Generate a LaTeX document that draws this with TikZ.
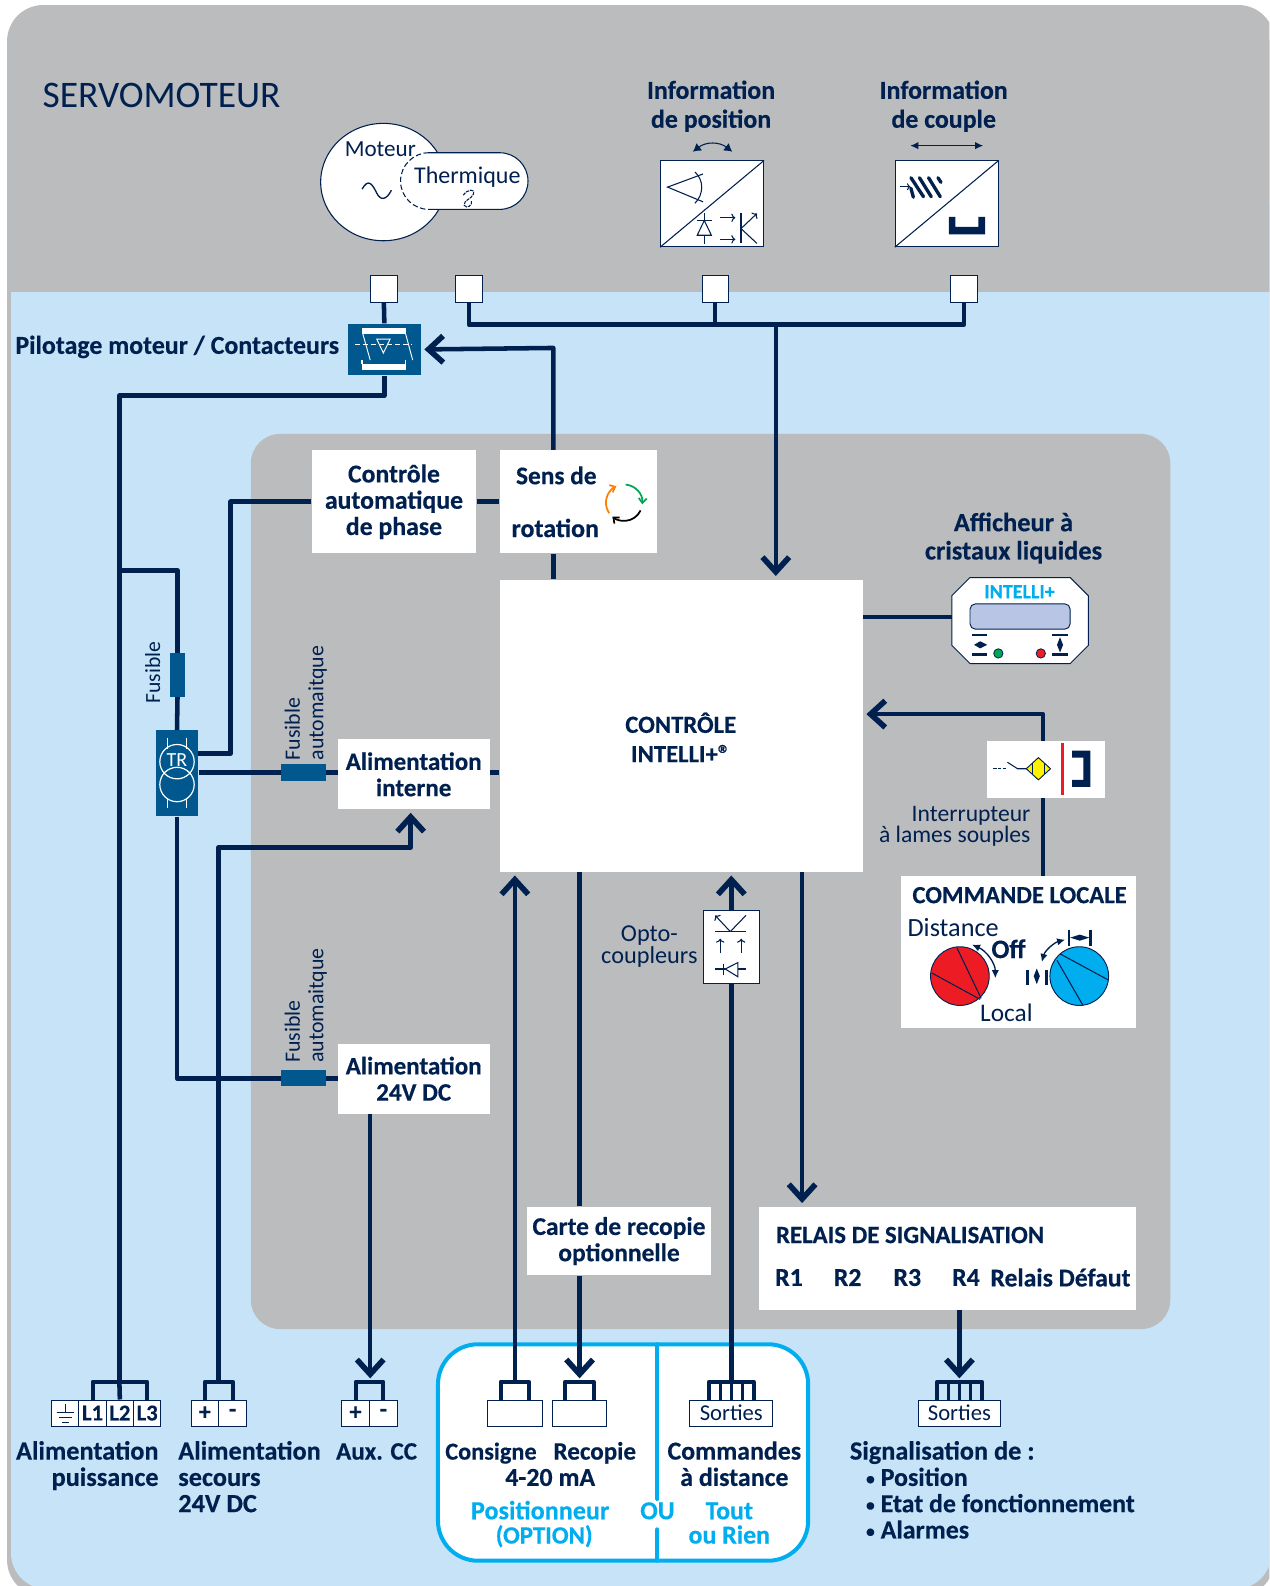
\documentclass[tikz,border=0pt]{standalone}
\usepackage{fontspec}
\setmainfont[BoldFeatures={FakeBold=0.4}]{Carlito}
\usetikzlibrary{calc,arrows.meta,shapes.geometric}
\definecolor{navy}{HTML}{00204F}
\definecolor{skyb}{HTML}{C6E3F8}
\definecolor{grayb}{HTML}{BBBCBE}
\definecolor{dblue}{HTML}{00588F}
\definecolor{cyanb}{HTML}{00AEEF}
\definecolor{redk}{HTML}{ED1C24}
\definecolor{yel}{HTML}{FFF200}
\definecolor{grn}{HTML}{00A651}
\definecolor{scr}{HTML}{B8C5E5}
\newcommand{\bx}[7]{% name x1 y1 x2 y2 style text
  \pgfmathsetmacro{\bw}{(#4-#2)*0.7584}\pgfmathsetmacro{\bh}{(#5-#3)*0.7584}
  \node[#6,minimum width=\bw pt,minimum height=\bh pt] (#1) at ({(#2+#4)/2},{(#3+#5)/2}) {#7};}
\newcommand{\fb}[1]{\fontsize{#1}{19.7}\selectfont\bfseries}
\newcommand{\fr}[1]{\fontsize{#1}{13.6}\selectfont}
\newcommand{\smallbul}{{\fontsize{13}{13}\selectfont\raisebox{1pt}{•}}\hspace{4.5pt}}
\tikzset{
 x=0.7584pt,y=-0.7584pt,
 wire/.style={draw=navy,line width=3.4pt,line join=round},
 wiretip/.style={wire,-{Straight Barb[length=11pt,width=20pt,line width=4.2pt,sep=1.5pt]},shorten >=1pt},
 comb/.style={draw=navy,line width=3pt,line join=round},
 icon/.style={draw=navy,line width=0.8pt},
 wbox/.style={rectangle,fill=white,inner sep=0pt,align=center,text=navy},
 term/.style={rectangle,fill=white,draw=navy,line width=0.6pt,inner sep=0pt,align=center,text=navy},
 dbox/.style={rectangle,fill=dblue,inner sep=0pt},
 tb/.style={inner sep=0pt,text=navy,align=center,font=\fb{19.4}},
 tr/.style={inner sep=0pt,text=navy,align=center,font=\fr{17.5}},
 tc/.style={tb,text=cyanb},
 bl/.style={tb,anchor=base west},
 wl/.style={draw=white,line width=0.7pt},
}
\begin{document}
\begin{tikzpicture}
\clip (0,0) rectangle (1255,1568);
\fill[white] (0,0) rectangle (1255,1568);
\fill[grayb,rounded corners=27pt] (7,5) rectangle (1260,1578);
\begin{scope}
\fill[skyb,rounded corners=27pt] (10.9,180) rectangle (1257,1571);
\fill[grayb] (8,40) rectangle (1262,289);
\end{scope}
\fill[grayb,rounded corners=22pt] (248,429) rectangle (1157,1314);

\node[inner sep=0pt,text=navy,anchor=west,font=\fontsize{28.1}{30}\selectfont] (title) at (42,94) {SERVOMOTEUR};

% ---------- Motor
\node[ellipse,draw=navy,line width=0.8pt,fill=white,minimum width=94pt,minimum height=88pt,inner sep=0pt] (motor) at (379,180) {};
\fill[white,rounded corners=21pt] (398,151) rectangle (522,207);
\draw[icon] (424,151) -- (494,151) arc[start angle=-90,end angle=90,radius=28] -- (424,207);
\draw[icon,dash pattern=on 4pt off 2pt] (424,151) arc[start angle=-90,end angle=-270,radius=28];
\node[tr,font=\fr{17.3}] (moteurt) at (376,147) {Moteur};
\node[tr,font=\fr{18}] (thermt) at (462,175) {Thermique};
\draw[navy,line width=1pt] (358,187) .. controls (364,176) and (368,182) .. (372,190) .. controls (376,199) and (382,198) .. (387,188);
\draw[icon,dash pattern=on 2.5pt off 0.7pt] (458,193) .. controls (462,187) and (470,186) .. (468,192) .. controls (466,197) and (458,198) .. (459,203) .. controls (461,207) and (468,203) .. (466,198);

% ---------- Position info
\node[tb] (infopos) at (703,105) {Information\\[2pt]de position};
\node[tb] (infocou) at (933,105) {Information\\[2pt]de couple};
\draw[icon,{Latex[length=6pt,width=7pt]}-{Latex[length=6pt,width=7pt]}] (685,150) .. controls (698,140) and (711,140) .. (724,150);
\draw[icon,{Latex[length=6pt,width=5.5pt]}-{Latex[length=6pt,width=5.5pt]}] (900,144) -- (972,144);
\bx{posbox}{653}{159}{755}{244}{term}{}
\bx{coubox}{885}{159}{987}{244}{term}{}
\draw[icon] (posbox.south west) -- (posbox.north east);
\draw[icon] (coubox.south west) -- (coubox.north east);
\draw[icon] (695,172) -- (660,185) -- (695,199.5);
\draw[icon] (687,170) .. controls (696,178) and (696,192) .. (687,201);
\draw[icon] (696.3,211) -- (696.3,217.6) (696.3,232.6) -- (696.3,241);
\draw[icon] (689,218) -- (703.5,218);
\draw[icon] (696.3,218) -- (689.3,232.6) -- (703.3,232.6) -- cycle;
\draw[icon,-{To[length=3pt]}] (712,215.3) -- (727,215.3);
\draw[icon,-{To[length=3pt]}] (712,236.6) -- (727,236.6);
\draw[icon] (732.6,211) -- (732.6,240.7);
\draw[icon,-{To[length=3pt]}] (732.6,226) -- (748.4,211);
\draw[icon] (732.6,226) -- (748.4,240.7);
% couple icon
\draw[icon,-{To[length=2.5pt]}] (890,184.6) -- (900,184.6);
\draw[navy,line width=2.5pt,line cap=round] (900.6,186.2) -- (903,195) (900.6,175.7) -- (913,194.5) (909,175.7) -- (920.7,194.5) (918,175.7) -- (929.6,194.5) (927.3,175.7) -- (930.3,180.3);
\fill[navy] (938,214.3) -- (944.6,214.3) -- (944.6,224.2) -- (967.3,224.2) -- (967.3,214.3) -- (974,214.3) -- (974,231.7) -- (938,231.7) -- cycle;

% ---------- top terminals
\bx{t1}{366}{272}{393}{299}{term}{}
\bx{t2}{450}{272}{477}{299}{term}{}
\bx{t3}{694}{272}{720}{299}{term}{}
\bx{t4}{940}{272}{966}{299}{term}{}
\coordinate (bus) at (767,321);
\draw[wire] (t2.south) |- (bus) -| (t4.south);
\draw[wire] (t3.south) -- (t3.south |- bus);

% ---------- Contactor
\bx{cont}{344}{320}{416}{371}{dbox}{}
\draw[wire] (t1.south) -- (cont.north);
\node[tb,anchor=west] (pilot) at (15,343) {Pilotage moteur / Contacteurs};
\fill[white] (357.6,324.6) rectangle (401,330);
\fill[white] (357.6,360) rectangle (401,366);
\draw[wl,line width=1pt] (358,356) -- (358,360) (401,356) -- (401,360);
\draw[wl,dash pattern=on 4pt off 2pt] (351,341) -- (407,341);
\draw[wl] (372.5,335.3) -- (385.7,335.3) -- (379,349) -- cycle;
\draw[wl] (358.7,330) -- (366,356) (401,330) -- (408,356);

% ---------- Main controller and upper boxes
\bx{ctrl}{494}{573}{853}{862}{wbox}{}
\node[tb,font=\fontsize{18.5}{22}\selectfont\bfseries] (ctrlt) at (673,729) {CONTRÔLE\\INTELLI+®};
\bx{phase}{308}{445}{471}{547}{wbox,font=\fb{19.3}}{Contrôle\\automatique\\de phase}
\bx{sens}{494}{445}{650}{547}{wbox}{}
\node[tb,font=\fb{19}] (senst) at (550,470) {Sens de};
\node[tb,font=\fb{19.5}] (senst2) at (549,522) {rotation};
\coordinate (rotc) at (617,497);
\draw[draw=orange,line width=1.3pt,-{Straight Barb[length=3.5pt,width=6pt]}] ([shift={(-215:18)}]rotc) arc[start angle=-215,end angle=-115,radius=18];
\draw[draw=grn,line width=1.3pt,-{Straight Barb[length=3.5pt,width=6pt]}] ([shift={(-85:18)}]rotc) arc[start angle=-85,end angle=5,radius=18];
\draw[draw=black,line width=1.3pt,-{Straight Barb[length=3.5pt,width=6pt]}] ([shift={(25:18)}]rotc) arc[start angle=25,end angle=130,radius=18];

\coordinate (rotup) at (547,344);
\draw[wiretip] (sens.north -| rotup) -- (rotup) -- (cont.east);
\draw[wire] (phase.east) -- (sens.west);
\draw[wire] (sens.south -| rotup) -- (ctrl.north -| rotup);
\draw[wiretip] (bus) -- (bus |- ctrl.north);

% ---------- Display
\node[tb,font=\fb{19.8}] (afft) at (1002,532) {Afficheur à\\[1.5pt]cristaux liquides};
\path[fill=white,draw=navy,line width=0.7pt] (959,571) -- (1058,571) -- (1076,589) -- (1076,638) -- (1058,656) -- (959,656) -- (941,638) -- (941,589) -- cycle;
\coordinate (dispw) at (941,610);
\node[inner sep=0pt,text=cyanb,font=\fontsize{15}{16}\selectfont\bfseries] (dispt) at (1008,585) {INTELLI+};
\draw[fill=scr,draw=navy,line width=0.7pt,rounded corners=4pt] (959,597) rectangle (1058,622);
\draw[navy,line width=1.7pt] (961,628) -- (976,628) (961,647) -- (976,647);
\fill[navy] (963,637.5) -- (969,634) -- (976,637.5) -- (969,641) -- cycle;
\draw[navy,line width=1.7pt] (1040,628) -- (1056,628) (1040,647) -- (1056,647);
\fill[navy] (1048,630) -- (1051,637.5) -- (1048,645) -- (1045,637.5) -- cycle;
\draw[draw=navy,line width=0.6pt,fill=grn] (987,646) circle[radius=4.6];
\draw[draw=navy,line width=0.6pt,fill=redk] (1029,646) circle[radius=4.6];
\draw[wire] (ctrl.east |- dispw) -- (dispw);

% ---------- Switch
\bx{switch}{976}{733}{1092}{789}{wbox}{}
\bx{cmd}{891}{866}{1123}{1016}{wbox}{}
\coordinate (swup) at (1031,706);
\draw[wiretip] (switch.north -| swup) -- (swup) -- (ctrl.east |- swup);
\draw[wire] (switch.south -| swup) -- (cmd.north -| swup);
\draw[draw=navy,line width=0.7pt,dash pattern=on 2.5pt off 1pt] (982,760) -- (995,760);
\draw[icon] (996,753.6) -- (1006,760) -- (1015,760);
\draw[fill=yel,draw=navy,line width=0.7pt] (1014.6,760) -- (1026.6,749) -- (1038.6,760) -- (1026.6,771) -- cycle;
\draw[icon] (1020.6,754.5) -- (1020.6,765.5) (1032.6,754.5) -- (1032.6,765.5);
\draw[draw=redk,line width=2.2pt] (1050,735) -- (1050,786);
\fill[navy] (1060,742) -- (1078,742) -- (1078,778) -- (1060,778) -- (1060,771) -- (1071,771) -- (1071,749) -- (1060,749) -- cycle;
\node[tr,font=\fr{17.7},align=right,anchor=east] (inter) at (1019,817) {Interrupteur\\à lames souples};

% ---------- Commande locale
\node[tb,font=\fb{18.5}] (cmdt) at (1008,885) {COMMANDE LOCALE};
\node[tr,anchor=west,font=\fr{19.7}] (distt) at (897,917) {Distance};
\node[tb,font=\fb{20}] (offt) at (997,938) {Off};
\node[tr,font=\fr{19}] (localt) at (995,1001) {Local};
\draw[fill=redk,draw=navy,line width=0.7pt] (949,965) circle[radius=29];
\draw[icon] (946,937) -- (970,987) (921.4,962) -- (969,988);
\draw[fill=cyanb,draw=navy,line width=0.7pt] (1067,965) circle[radius=29];
\draw[icon] (1048,943) -- (1096,969) (1045,949.4) -- (1070.7,994);
\draw[icon,line width=1pt,{Latex[length=6pt,width=5.5pt]}-{Latex[length=6pt,width=5.5pt]}] (961,934) .. controls (975,940) and (984,952) .. (984,967);
\draw[icon,line width=1pt,{Latex[length=6pt,width=5.5pt]}-{Latex[length=6pt,width=5.5pt]}] (1030,951) .. controls (1033,940) and (1042,932) .. (1053,929);
\draw[navy,line width=2pt] (1057,919.6) -- (1057,935) (1078,919.6) -- (1078,935);
\fill[navy] (1058,927) -- (1067.5,924) -- (1077,927) -- (1067.5,930) -- cycle;
\draw[navy,line width=2pt] (1016,959) -- (1016,973.6) (1034.4,959) -- (1034.4,973.6);
\fill[navy] (1025,957.5) -- (1028,965) -- (1025,973) -- (1022,965) -- cycle;

% ---------- Power tree
\bx{fuse1}{168}{646}{183}{689}{dbox}{}
\bx{tr}{154}{722}{196}{807}{dbox}{}
\bx{fuse2}{278}{755}{322}{772}{dbox}{}
\bx{fuse3}{278}{1058}{322}{1074}{dbox}{}
\bx{alimi}{334}{731}{484}{800}{wbox,font=\fb{18.8}}{Alimentation\\interne}
\bx{alim24}{334}{1032}{484}{1101}{wbox,font=\fb{18.8}}{Alimentation\\24V DC}
\node[tr,rotate=90,anchor=center,font=\fr{16.2}] (fust) at (151,665) {Fusible};
\node[tr,rotate=90,anchor=west,font=\fr{16.4}] (fa1) at (289,752) {Fusible};
\node[tr,rotate=90,anchor=west,font=\fr{16.4}] (fa2) at (314,752) {automaitque};
\node[tr,rotate=90,anchor=west,font=\fr{16.4}] (fb1) at (289,1051) {Fusible};
\node[tr,rotate=90,anchor=west,font=\fr{16.4}] (fb2) at (314,1051) {automaitque};
% TR icon
\draw[wl,line width=0.9pt] (175,753) circle[radius=17] (175,775.6) circle[radius=17];
\draw[wl] (165.8,730) -- (165.8,740) (184,730) -- (184,740) (165.8,789) -- (165.8,799) (184,789) -- (184,799);
\node[inner sep=0pt,text=white,font=\fontsize{15}{16}\selectfont] (trt) at (175,751) {TR};

\coordinate (lv) at (118,391);
\coordinate (lj) at (118,564);
\coordinate (phs) at (196,745);
\coordinate (phc) at (228,496);
\coordinate (l24) at (175,1066);
\draw[wire] (lj) -| (fuse1.north);
\draw[wire] (fuse1.south) -- (tr.north);
\draw[wire] (phase.west) -- (phc) |- (phs);
\draw[wire] (tr.east |- fuse2) -- (fuse2.west);
\draw[wire] (fuse2.east) -- (alimi.west |- fuse2);
\draw[wire] (alimi.east |- fuse2) -- (ctrl.west |- fuse2);
\draw[wire] (tr.south) -- (l24) -- (fuse3.west);
\draw[wire] (fuse3.east) -- (alimi.west |- fuse3);

% ---------- bottom terminals
\bx{ctn}{433}{1329}{799}{1543}{rectangle,rounded corners=30pt,fill=white,draw=cyanb,line width=3pt}{}
\draw[draw=cyanb,line width=3pt,line cap=round] (650,1329) -- (650,1482) (650,1512) -- (650,1543);
\bx{ge}{51}{1384}{78}{1410}{term}{}
\bx{l1}{78}{1384}{105}{1410}{term,font=\fontsize{17}{17}\selectfont\bfseries}{L1}
\bx{l2}{105}{1384}{132}{1410}{term,font=\fontsize{17}{17}\selectfont\bfseries}{L2}
\bx{l3}{132}{1384}{159}{1410}{term,font=\fontsize{17}{17}\selectfont\bfseries}{L3}
\draw[icon,line width=0.6pt] (64.5,1388) -- (64.5,1396) (56,1396) -- (73,1396) (58,1401) -- (71,1401) (61,1406) -- (68,1406);
\bx{bp}{189}{1384}{216}{1410}{term,font=\fontsize{18}{18}\selectfont\bfseries}{+}
\bx{bm}{216}{1384}{244}{1410}{term,font=\fontsize{18}{18}\selectfont\bfseries}{-}
\bx{ap}{338}{1384}{365}{1410}{term,font=\fontsize{18}{18}\selectfont\bfseries}{+}
\bx{am}{365}{1384}{393}{1410}{term,font=\fontsize{18}{18}\selectfont\bfseries}{-}
\bx{pc}{482}{1384}{536}{1410}{term}{}
\bx{pr}{546}{1384}{600}{1410}{term}{}
\bx{so1}{682}{1384}{764}{1410}{term,font=\fontsize{17}{17}\selectfont}{Sorties}
\bx{so2}{908}{1384}{989}{1410}{term,font=\fontsize{17}{17}\selectfont}{Sorties}

\draw[comb] (l1.north) |- (118,1366) -| (l3.north);
\draw[comb] (bp.north) |- (216,1366) -| (bm.north);
\draw[comb] (ap.north) |- (366,1366) -| (am.north);
\draw[comb] ($(pc.north)+(-14,0)$) |- (509,1366) -| ($(pc.north)+(14,0)$);
\draw[comb] ($(pr.north)+(-14,0)$) |- (573,1366) -| ($(pr.north)+(14,0)$);
\foreach \n/\c in {so1/723,so2/948.5}{
  \draw[comb] ($(\n.north)+(-22,0)$) |- (\c,1366) -| ($(\n.north)+(22,0)$);
  \draw[comb,line width=2.4pt] ($(\n.north)+(-11,0)$) -- ++(0,-18) ($(\n.north)+(11,0)$) -- ++(0,-18) ($(\n.north)$) -- ++(0,-18);
}

\coordinate (c118) at (118,1366);
\draw[wire] (cont.south) |- (lv) -- (c118);
\draw[wire] (l2.north) -- (c118);
\coordinate (c216) at (216,838);
\coordinate (c406) at (406,838);
\draw[wiretip] (216,1366) -- (c216) -- (c406) -- (c406 |- alimi.south);
\draw[wiretip] (alim24.south -| 366,0) -- (366,1366);
\draw[wiretip] (509,1366) -- (ctrl.south -| 509,0);
\bx{carte}{521}{1193}{703}{1261}{wbox,font=\fb{19.1}}{Carte de recopie\\optionnelle}
\draw[wire] (573,862) -- (carte.north -| 573,0);
\draw[wiretip] (carte.south -| 573,0) -- (573,1366);

% opto
\bx{opto}{695}{900}{751}{972}{term}{}
\draw[wiretip] (opto.north) -- (opto.north |- ctrl.south);
\draw[wire] (opto.south) -- (723,1366);
\draw[icon] (707,921) -- (737.5,921);
\draw[icon,-{To[length=3pt]}] (722,921) -- (707,905);
\draw[icon] (722,921) -- (737.5,905);
\draw[icon,-{To[length=3pt]}] (712,942.6) -- (712,928);
\draw[icon,-{To[length=3pt]}] (732.8,942.6) -- (732.8,928);
\draw[icon] (707,958) -- (737.5,958) (715.4,953) -- (715.4,964);
\draw[fill=white,draw=navy,line width=0.8pt] (717,958) -- (729.5,951.6) -- (729.5,965.7) -- cycle;
\node[tr,font=\fr{18.2}] (optot) at (642,936) {Opto-\\coupleurs};

% relays
\bx{rel}{750}{1193}{1123}{1295}{wbox}{}
\node[tb,anchor=west,font=\fb{18.6}] (relt) at (767,1221) {RELAIS DE SIGNALISATION};
\node[tb] (r1) at (780,1263) {R1};
\node[tb] (r2) at (838,1263) {R2};
\node[tb] (r3) at (897,1263) {R3};
\node[tb] (r4) at (955,1263) {R4};
\node[tb,anchor=west,font=\fb{19.2}] (rd) at (979,1263) {Relais Défaut};
\coordinate (relout) at (793,862);
\draw[wiretip] (relout) -- (relout |- rel.north);
\draw[wiretip] (rel.south -| 948.5,0) -- (948.5,1366);

% ---------- bottom labels
\node[bl,anchor=base east,font=\fb{19.7}] (lbl1a) at (157,1443) {Alimentation};
\node[bl,anchor=base east,font=\fb{19.7}] (lbl1b) at (157,1469) {puissance};
\node[bl,font=\fb{19.7}] (lbl2a) at (176,1443) {Alimentation};
\node[bl,font=\fb{19.7}] (lbl2b) at (176,1469) {secours};
\node[bl,font=\fb{19.7}] (lbl2c) at (176,1495) {24V DC};
\node[bl,font=\fb{18.8}] (lbl3) at (332,1443) {Aux. CC};
\node[bl,font=\fb{18.2}] (lbl4) at (440,1443) {Consigne};
\node[bl,font=\fb{18.8}] (lbl5) at (547,1443) {Recopie};
\node[bl,anchor=base] (lbl6) at (544,1469) {4-20 mA};
\node[tc,anchor=base,font=\fb{19.6}] (lbl7) at (534,1502) {Positionneur};
\node[tc,anchor=base,font=\fb{18.6}] (lbl8) at (538,1526) {(OPTION)};
\node[tc,anchor=base] (lbl9) at (650,1502) {OU};
\node[tc,anchor=base] (lbl10) at (721,1502) {Tout};
\node[tc,anchor=base] (lbl11) at (721,1526) {ou Rien};
\node[tb,anchor=base] (lbl12) at (726,1443) {Commandes};
\node[tb,anchor=base] (lbl13) at (726,1469) {à distance};
\node[bl,font=\fb{19.7}] (lbl14) at (840,1443) {Signalisation de :};
\node[bl] (lbl15) at (856,1469) {\smallbul Position};
\node[bl] (lbl16) at (856,1495) {\smallbul Etat de fonctionnement};
\node[bl] (lbl17) at (856,1521) {\smallbul Alarmes};
\end{tikzpicture}
\end{document}
